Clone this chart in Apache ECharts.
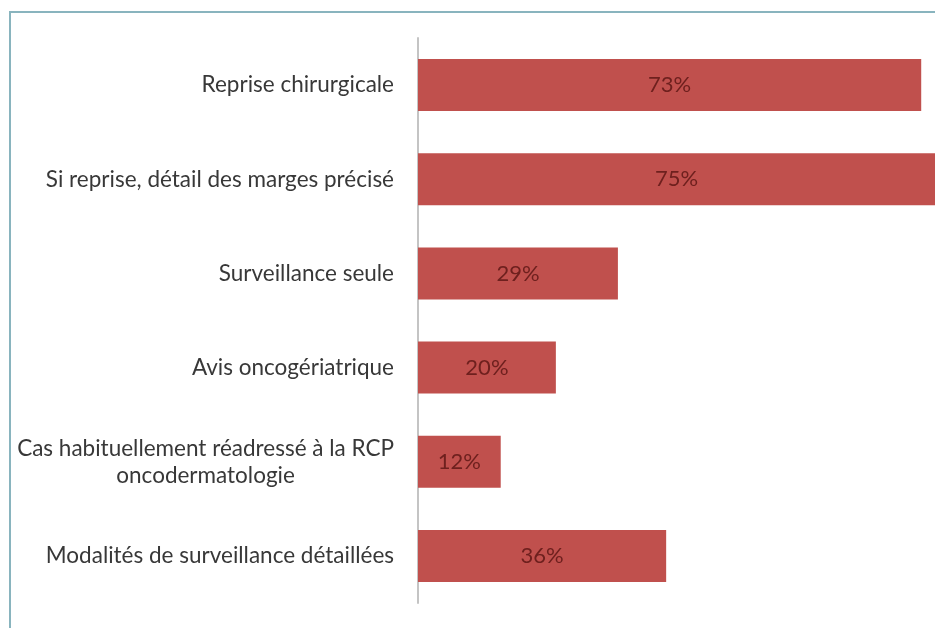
<!DOCTYPE html>
<html>
<head>
<meta charset="utf-8">
<script src="https://cdn.jsdelivr.net/npm/echarts@6/dist/echarts.min.js"></script>
<style>
html,body{margin:0;padding:0;background:#ffffff;}
#chart{width:935px;height:628px;}
</style>
</head>
<body>
<div id="chart"></div>
<script>
const categories = [
  "Reprise chirurgicale",
  "Si reprise, détail des marges précisé",
  "Surveillance seule",
  "Avis oncogériatrique",
  "Cas habituellement réadressé à la RCP\noncodermatologie",
  "Modalités de surveillance détaillées"
];
const values = [73, 75, 29, 20, 12, 36];

const chart = echarts.init(document.getElementById('chart'), null, {renderer: 'canvas'});
const FONT = 'Lato';
chart.setOption({
  animation: false,
  backgroundColor: '#ffffff',
  graphic: [{
    type: 'rect',
    shape: {x: 10, y: 12, width: 1200, height: 1000},
    style: {fill: null, stroke: '#89b4be', lineWidth: 2},
    z: 100
  }],
  grid: {left: 418, right: 0, top: 38, bottom: 25, containLabel: false},
  xAxis: {
    type: 'value', min: 0, max: 75, show: false,
    splitLine: {show: false}
  },
  yAxis: {
    type: 'category',
    data: categories,
    inverse: true,
    axisLine: {show: true, lineStyle: {color: '#c4c4c4', width: 2}},
    axisTick: {show: false},
    axisLabel: {
      margin: 24,
      align: 'right',
      formatter: function (v) {
        return v.split('\n').map(function (l) { return '{c|' + l + '}'; }).join('\n');
      },
      rich: {
        c: {align: 'center', fontFamily: FONT, fontSize: 22.5, color: '#383838', lineHeight: 27}
      }
    }
  },
  series: [{
    type: 'bar',
    data: values,
    barWidth: 52,
    itemStyle: {color: '#c0504d'},
    label: {
      show: true,
      position: 'inside',
      formatter: '{c}%',
      fontFamily: FONT,
      fontSize: 22,
      color: '#6e201e'
    }
  }]
});
</script>
</body>
</html>
